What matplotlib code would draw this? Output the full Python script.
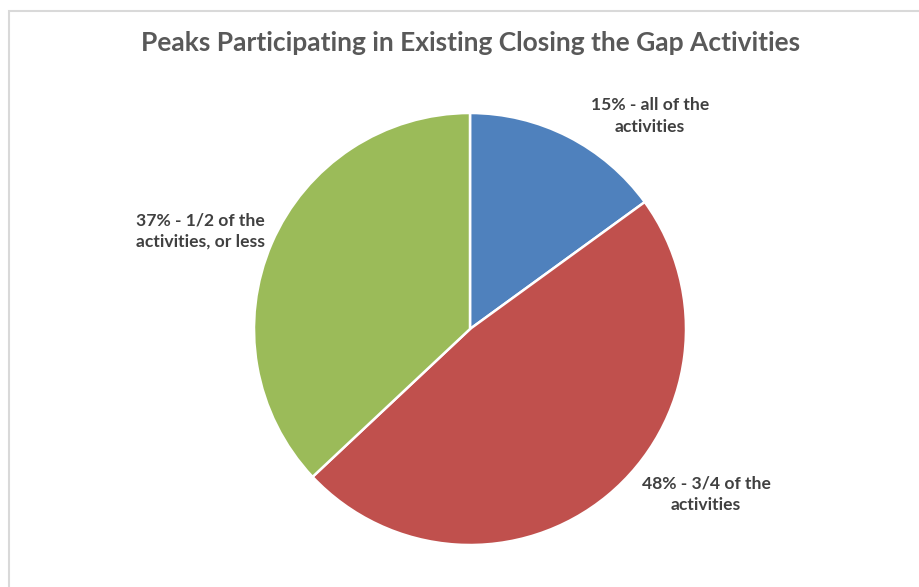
import matplotlib.pyplot as plt
from matplotlib.patches import Rectangle

# Share of peaks by how many Closing the Gap activities they take part in
shares = [15, 48, 37]
labels = ['15% - all of the\nactivities',
          '48% - 3/4 of the\nactivities',
          '37% - 1/2 of the\nactivities, or less']
colors = ['#4F81BD', '#C0504D', '#9BBB59']

W, H = 919, 587
fig = plt.figure(figsize=(W / 100, H / 100), dpi=100)
ax = fig.add_axes([0, 0, 1, 1])
ax.set_xlim(0, W)
ax.set_ylim(0, H)
ax.set_aspect('equal')
ax.axis('off')

# chart frame
ax.add_patch(Rectangle((8.5, -5), W, H - 10.5 + 5, facecolor='white',
                       edgecolor='#D9D9D9', linewidth=1.5))

ax.pie(shares, colors=colors, startangle=90, counterclock=False,
       center=(470, H - 329), radius=216,
       wedgeprops=dict(edgecolor='white', linewidth=1.8))
ax.set_xlim(0, W)
ax.set_ylim(0, H)

font = 'Lato'
ax.text(470.5, H - 43, 'Peaks Participating in Existing Closing the Gap Activities',
        ha='center', va='center', fontsize=19, fontweight='bold',
        color='#595959', family=font)

label_pos = [(650, H - 116), (706, H - 494), (200, H - 231)]
for (x, y), txt in zip(label_pos, labels):
    ax.text(x, y, txt, ha='center', va='center', fontsize=12.6,
            fontweight='bold', color='#404040', family=font,
            linespacing=1.4)

fig.savefig('out.png', dpi=100)
